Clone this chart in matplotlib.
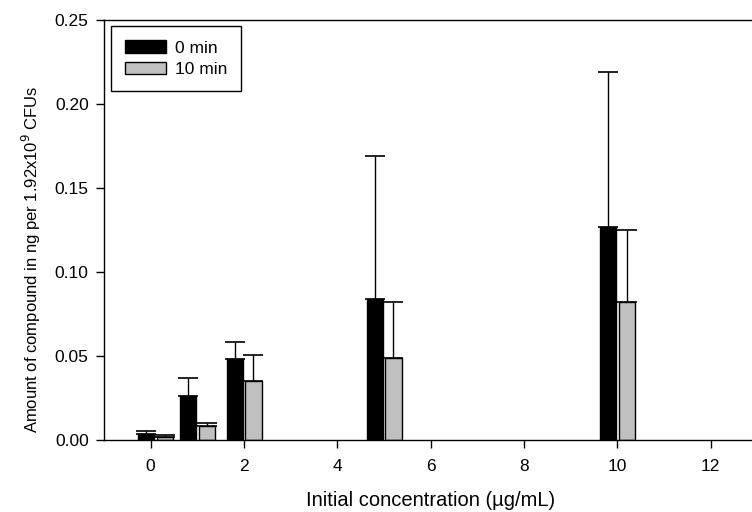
import matplotlib
matplotlib.use('Agg')
import matplotlib.pyplot as plt
import numpy as np

plt.rcParams['font.family'] = ['Liberation Sans', 'DejaVu Sans']

# concentrations (ug/mL)
conc = [0.1, 1, 2, 5, 10]
min0 = [0.0036, 0.026, 0.048, 0.084, 0.127]
min0_err = [0.0019, 0.0107, 0.0105, 0.085, 0.092]
min10 = [0.0020, 0.0081, 0.035, 0.049, 0.082]
min10_err = [0.0012, 0.0022, 0.0155, 0.033, 0.043]
xticks = [0, 2, 4, 6, 8, 10, 12]
yticks = [0.0, 0.05, 0.10, 0.15, 0.20, 0.25]

fig = plt.figure(figsize=(7.52, 5.12), dpi=100)
ax = fig.add_axes([0.1383, 0.1406, 0.869, 0.8203])

x = np.array(conc)
w = 0.35
errkw = dict(ecolor='black', elinewidth=1, capsize=7, capthick=1.2)
ax.bar(x - 0.2, min0, w, yerr=[np.zeros(len(min0)), min0_err], color='black',
       edgecolor='black', linewidth=1, error_kw=errkw, label='0 min')
ax.bar(x + 0.2, min10, w, yerr=[np.zeros(len(min10)), min10_err], color='#c0c0c0',
       edgecolor='black', linewidth=1, error_kw=errkw, label='10 min')

ax.set_xlim(-1, 13)
ax.set_ylim(0, 0.25)
ax.set_xticks(xticks)
ax.set_yticks(yticks)
ax.set_yticklabels(['%.2f' % v for v in yticks])
ax.tick_params(direction='out', length=6, width=1, labelsize=12.5)
ax.tick_params(axis='x', pad=8)
ax.tick_params(axis='y', pad=5)
for s in ax.spines.values():
    s.set_linewidth(1)
ax.spines['right'].set_visible(False)

ax.set_xlabel('Initial concentration (\u00b5g/mL)', fontsize=14.5, labelpad=12)
ax.set_ylabel('Amount of compound in ng per 1.92x10$^9$ CFUs', fontsize=12)
ax.yaxis.set_label_coords(-0.094, 0.43)

leg = ax.legend(loc='upper left', bbox_to_anchor=(0.0105, 0.985), fontsize=12.5,
                fancybox=False, framealpha=1, edgecolor='black',
                handlelength=2.4, handleheight=0.75, handletextpad=0.5,
                borderpad=0.8, labelspacing=0.35, borderaxespad=0)
leg.get_frame().set_linewidth(1)

fig.savefig('out.png', dpi=100)
